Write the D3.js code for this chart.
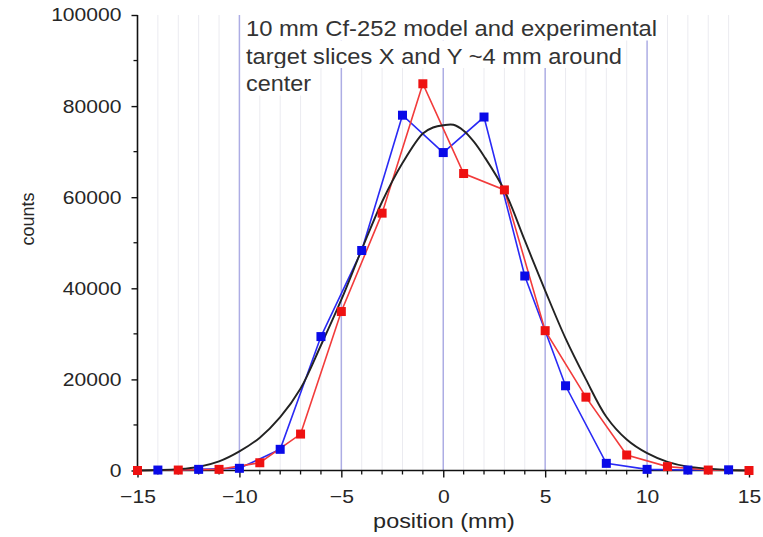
<!DOCTYPE html>
<html>
<head>
<meta charset="utf-8">
<script src="https://cdn.jsdelivr.net/npm/d3@7/dist/d3.min.js"></script>
<style>
    body { margin: 0; background: #fff; }
    svg text { font-family: "Liberation Sans", Arial, sans-serif; }
</style>
</head>
<body>
<div id="chart"></div>
<script>
// red = experimental slice (odd positions), blue = other slice (even positions), black = model
const redPositions = [-15, -13, -11, -9, -7, -5, -3, -1, 1, 3, 5, 7, 9, 11, 13, 15];
const redCounts = [0, 100, 250, 1700, 8000, 34900, 56500, 84900, 65200, 61600, 30700, 16100, 3400, 850, 100, 0];

const bluePositions = [-14, -12, -10, -8, -6, -4, -2, 0, 2, 4, 6, 8, 10, 12, 14];
const blueCounts = [100, 250, 480, 4650, 29400, 48300, 78000, 69800, 77600, 42700, 18600, 1570, 250, 100, 150];

const modelPositions = [-15, -14, -13, -12, -11, -10, -9, -8, -7, -6, -5, -4, -3, -2, -1, -0.5, 0, 0.5, 1, 1.5, 2, 3, 4, 5, 6, 7, 8, 9, 10, 11, 12, 13, 14, 15];
const modelCounts = [0, 100, 300, 800, 2000, 4200, 7200, 11700, 18000, 27500, 37500, 48500, 59000, 67500, 74000, 75300, 75800, 75900, 74600, 72200, 69000, 61500, 50500, 39500, 29000, 20000, 11800, 6800, 3800, 1900, 850, 400, 100, 0];

const xTicks = [-15, -10, -5, 0, 5, 10, 15];
const yTicks = [0, 20000, 40000, 60000, 80000, 100000];
const noteLines = ['10 mm Cf-252 model and experimental', 'target slices X and Y ~4 mm around', 'center'];

const width = 763, height = 537;
const margin = { top: 15, right: 14, bottom: 66.5, left: 137.5 };

// the source picture is a little wider than tall, so text is stretched sideways
const stretch = (sel, k) => sel.each(function() {
    const w = this.getComputedTextLength();
    d3.select(this).attr('textLength', w * k).attr('lengthAdjust', 'spacingAndGlyphs');
});

const svg = d3.select('#chart').append('svg')
    .attr('width', width)
    .attr('height', height);

const x = d3.scaleLinear()
    .domain([-15, 15])
    .range([margin.left, width - margin.right]);

const y = d3.scaleLinear()
    .domain([0, 100000])
    .range([height - margin.bottom, margin.top]);

// faint grid at every mm
svg.append('g')
    .selectAll('line')
    .data(d3.range(-14, 15).filter(d => d % 5 !== 0))
    .enter()
    .append('line')
    .attr('x1', d => x(d)).attr('x2', d => x(d))
    .attr('y1', y(100000)).attr('y2', y(0))
    .attr('stroke', '#ebebf0')
    .attr('stroke-width', 1);

// main grid at every 5 mm
svg.append('g')
    .selectAll('line')
    .data(xTicks.filter(d => Math.abs(d) < 15))
    .enter()
    .append('line')
    .attr('x1', d => x(d)).attr('x2', d => x(d))
    .attr('y1', y(100000)).attr('y2', y(0))
    .attr('stroke', '#adade4')
    .attr('stroke-width', 1.5);

// note, each line on its own white box
const note = svg.append('g');
const noteLens = [411, 376, 65];
noteLines.forEach((txt, i) => {
    note.append('rect')
        .attr('x', 243)
        .attr('y', 13 + i * 27.5)
        .attr('width', noteLens[i] + 6)
        .attr('height', 27.5)
        .attr('fill', '#fff');
    note.append('text')
        .attr('x', 246)
        .attr('y', 36 + i * 27.5)
        .attr('font-size', 22)
        .attr('fill', '#333')
        .attr('textLength', noteLens[i])
        .attr('lengthAdjust', 'spacingAndGlyphs')
        .text(txt);
});

// axes
const xAxis = svg.append('g')
    .attr('transform', `translate(0,${y(0)})`)
    .call(d3.axisBottom(x).tickValues(xTicks).tickSize(7).tickPadding(12).tickFormat(d3.format('d')));
xAxis.append('g')
    .selectAll('line')
    .data(d3.range(-14, 15).filter(d => d % 5 !== 0))
    .enter()
    .append('line')
    .attr('x1', d => x(d)).attr('x2', d => x(d))
    .attr('y1', 0).attr('y2', 4)
    .attr('stroke', '#111')
    .attr('stroke-width', 1.3);

const yAxis = svg.append('g')
    .attr('transform', `translate(${x(-15)},0)`)
    .call(d3.axisLeft(y).tickValues(yTicks).tickSize(6).tickPadding(10).tickFormat(d3.format('d')));
yAxis.append('g')
    .selectAll('line')
    .data([10000, 30000, 50000, 70000, 90000])
    .enter()
    .append('line')
    .attr('x1', -4).attr('x2', 0)
    .attr('y1', d => y(d)).attr('y2', d => y(d))
    .attr('stroke', '#111')
    .attr('stroke-width', 1.3);

[xAxis, yAxis].forEach(g => {
    g.select('.domain').attr('stroke', '#111').attr('stroke-width', 1.6);
    g.selectAll('.tick line').attr('stroke', '#111').attr('stroke-width', 1.4);
    g.selectAll('.tick text')
        .attr('font-size', 18.5)
        .attr('font-family', '"Liberation Sans", Arial, sans-serif')
        .attr('fill', '#262626')
        .call(stretch, 1.14);
});
xAxis.select('.domain').attr('d', `M${x(-15)},0H${x(15)}`);
yAxis.select('.domain').attr('d', `M0,${y(0)}V${y(100000)}`);

svg.append('text')
    .attr('x', 444)
    .attr('y', 528)
    .attr('text-anchor', 'middle')
    .attr('font-size', 20)
    .attr('fill', '#262626')
    .text('position (mm)')
    .call(stretch, 1.17);

svg.append('text')
    .attr('transform', `translate(34,219) rotate(-90)`)
    .attr('text-anchor', 'middle')
    .attr('font-size', 18)
    .attr('fill', '#262626')
    .text('counts');

// series
const line = d3.line()
    .x(d => x(d[0]))
    .y(d => y(d[1]));

const blueData = bluePositions.map((p, i) => [p, blueCounts[i]]);
const redData = redPositions.map((p, i) => [p, redCounts[i]]);
const modelData = modelPositions.map((p, i) => [p, modelCounts[i]]);

svg.append('path')
    .datum(blueData)
    .attr('d', line)
    .attr('fill', 'none')
    .attr('stroke', '#2a2af5')
    .attr('stroke-width', 1.6);

svg.append('path')
    .datum(redData)
    .attr('d', line)
    .attr('fill', 'none')
    .attr('stroke', '#f23b3b')
    .attr('stroke-width', 1.6);

svg.append('path')
    .datum(modelData)
    .attr('d', line.curve(d3.curveCatmullRom.alpha(0.5)))
    .attr('fill', 'none')
    .attr('stroke', '#222')
    .attr('stroke-width', 1.9);

const size = 9;
svg.append('g')
    .selectAll('rect')
    .data(blueData)
    .enter()
    .append('rect')
    .attr('x', d => x(d[0]) - size / 2)
    .attr('y', d => y(d[1]) - size / 2)
    .attr('width', size).attr('height', size)
    .attr('fill', '#0a0ae8');

svg.append('g')
    .selectAll('rect')
    .data(redData)
    .enter()
    .append('rect')
    .attr('x', d => x(d[0]) - size / 2)
    .attr('y', d => y(d[1]) - size / 2)
    .attr('width', size).attr('height', size)
    .attr('fill', '#ee1111');
</script>
</body>
</html>
